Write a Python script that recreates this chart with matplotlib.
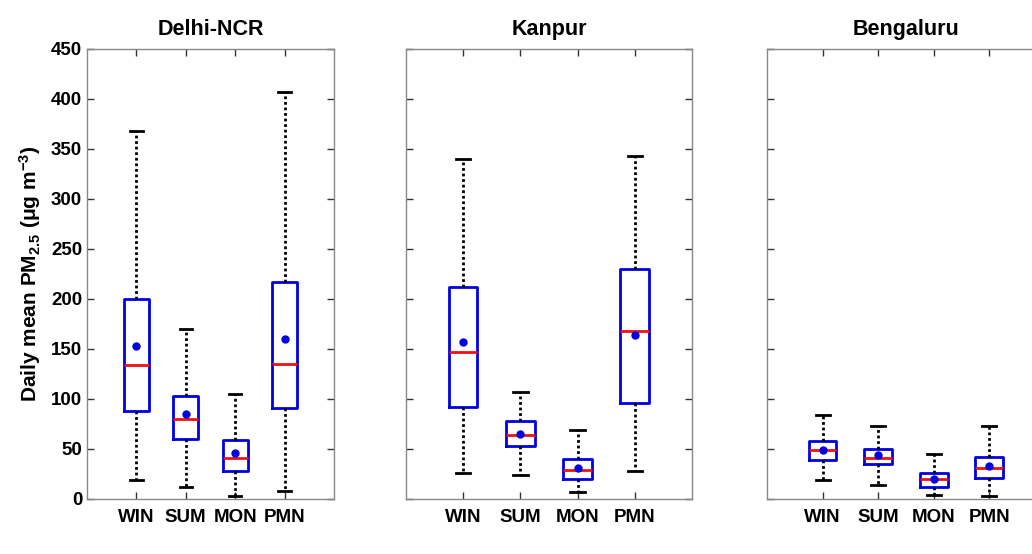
import matplotlib
matplotlib.use("Agg")
from matplotlib import pyplot as plt

plt.rcParams['font.family'] = ['Liberation Sans', 'DejaVu Sans']
plt.rcParams['font.weight'] = 'bold'
plt.rcParams['mathtext.fontset'] = 'custom'
plt.rcParams['mathtext.rm'] = 'Liberation Sans:bold'
plt.rcParams['mathtext.bf'] = 'Liberation Sans:bold'
plt.rcParams['mathtext.default'] = 'bf'

seasons = ['WIN', 'SUM', 'MON', 'PMN']
cities = ['Delhi-NCR', 'Kanpur', 'Bengaluru']

# values (ug m-3), one list per season
whislo = [[19, 12, 3, 8], [26, 24, 7, 28], [19, 14, 4, 3]]
q1 = [[88, 60, 28, 91], [92, 53, 20, 96], [39, 35, 12, 21]]
med = [[134, 80, 41, 135], [147, 64, 29, 168], [49, 41, 20, 31]]
q3 = [[200, 103, 59, 217], [212, 78, 40, 230], [58, 50, 26, 42]]
whishi = [[368, 170, 105, 407], [340, 107, 69, 343], [84, 73, 45, 73]]
mean = [[153, 85, 46, 160], [157, 65, 31, 164], [49, 44, 20, 33]]

fig = plt.figure(figsize=(10.32, 5.54), dpi=100)
# panel positions in figure fraction (last one runs off the right edge like the source)
rects = [[0.0843, 0.0993, 0.2393, 0.8123],
         [0.3934, 0.0993, 0.2771, 0.8123],
         [0.7432, 0.0993, 0.2694, 0.8123]]

for i, city in enumerate(cities):
    ax = fig.add_axes(rects[i])
    stats = []
    for j, s in enumerate(seasons):
        stats.append(dict(label=s, whislo=whislo[i][j], q1=q1[i][j], med=med[i][j],
                          q3=q3[i][j], whishi=whishi[i][j], mean=mean[i][j], fliers=[]))
    ax.bxp(stats, positions=[1, 2, 3, 4], widths=0.5, capwidths=0.25,
           showmeans=True, showfliers=False,
           boxprops=dict(color='#0000e0', linewidth=2),
           medianprops=dict(color='#ee1111', linewidth=2),
           whiskerprops=dict(color='black', linewidth=2, linestyle=(0, (1, 1))),
           capprops=dict(color='black', linewidth=2),
           meanprops=dict(marker='o', markerfacecolor='#0000e0',
                          markeredgecolor='#0000e0', markersize=5))
    ax.set_xlim(0, 5)
    ax.set_ylim(0, 450)
    ax.set_yticks(range(0, 451, 50))
    ax.set_xticks([1, 2, 3, 4])
    ax.set_xticklabels(seasons, fontsize=13.5, fontweight='bold')
    ax.tick_params(direction='in', top=True, right=True, length=5, width=1,
                   color='#333333', labelsize=13.5)
    ax.tick_params(axis='x', pad=7)
    for sp in ax.spines.values():
        sp.set_color('#888888')
        sp.set_linewidth(1)
    ax.set_title(city, fontsize=15.5, fontweight='bold', pad=10)
    if i == 0:
        ax.set_ylabel('Daily mean PM$_{2.5}$ (μg m$^{-3}$)', fontsize=15,
                      fontweight='bold', labelpad=6)
    else:
        ax.set_yticklabels([])

fig.savefig('out.png', dpi=100)
